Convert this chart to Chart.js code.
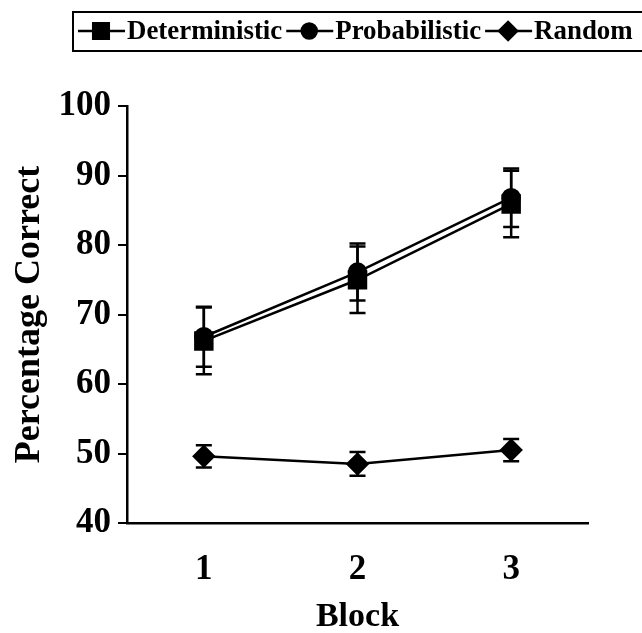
<!DOCTYPE html>
<html>
<head>
<meta charset="utf-8">
<script src="https://cdn.jsdelivr.net/npm/chart.js@4"></script>
<style>
  body { margin: 0; background: #fff; }
  #wrap { width: 642px; height: 633px; }
</style>
</head>
<body>
<div id="wrap"><canvas id="chart"></canvas></div>
<script>
  var blocks = ["1", "2", "3"];
  var deterministic = [66.2, 75.0, 85.9];
  var deterministicErr = [4.8, 4.8, 4.8];
  var probabilistic = [66.8, 76.1, 86.8];
  var probabilisticErr = [4.3, 4.1, 4.2];
  var random = [49.6, 48.5, 50.5];
  var randomErr = [1.6, 1.7, 1.6];
  var yTicks = [40, 50, 60, 70, 80, 90, 100];

  var serif = "'Liberation Serif', 'Times New Roman', serif";

  // error bars drawn from the dataset values through the y scale
  var errorBars = {
    id: "errorBars",
    beforeDatasetsDraw: function (chart) {
      var ctx = chart.ctx;
      var yScale = chart.scales.y;
      ctx.save();
      ctx.strokeStyle = "#000";
      ctx.lineWidth = 2.5;
      chart.data.datasets.forEach(function (ds, i) {
        var meta = chart.getDatasetMeta(i);
        meta.data.forEach(function (pt, j) {
          var top = yScale.getPixelForValue(ds.data[j] + ds.errors[j]);
          var bottom = yScale.getPixelForValue(ds.data[j] - ds.errors[j]);
          ctx.beginPath();
          ctx.moveTo(pt.x, top);
          ctx.lineTo(pt.x, bottom);
          ctx.moveTo(pt.x - 8, top);
          ctx.lineTo(pt.x + 8, top);
          ctx.moveTo(pt.x - 8, bottom);
          ctx.lineTo(pt.x + 8, bottom);
          ctx.stroke();
        });
      });
      ctx.restore();
    },
  };

  // boxed legend with line + marker samples, like the original figure
  var boxLegend = {
    id: "boxLegend",
    afterDraw: function (chart) {
      var ctx = chart.ctx;
      var x = 78;
      var y = 31;
      ctx.save();
      ctx.strokeStyle = "#000";
      ctx.lineWidth = 2;
      ctx.strokeRect(73, 12, 575, 39);
      ctx.font = "bold 28px " + serif;
      ctx.textBaseline = "middle";
      ctx.fillStyle = "#000";
      chart.data.datasets.forEach(function (ds) {
        ctx.lineWidth = 2.5;
        ctx.beginPath();
        ctx.moveTo(x, y);
        ctx.lineTo(x + 47, y);
        ctx.stroke();
        Chart.helpers.drawPoint(
          ctx,
          { pointStyle: ds.pointStyle, radius: ds.pointRadius - 1, rotation: 0, borderWidth: 1 },
          x + 23,
          y
        );
        ctx.fill();
        // text is a little condensed in the original
        ctx.save();
        ctx.translate(x + 49, y + 1);
        ctx.scale(0.96, 1);
        ctx.fillText(ds.label, 0, 0);
        ctx.restore();
        x += 49 + ctx.measureText(ds.label).width * 0.96 + 4;
      });
      ctx.restore();
    },
  };

  function makeSet(label, data, errors, style, radius) {
    return {
      label: label,
      data: data,
      errors: errors,
      borderColor: "#000",
      backgroundColor: "#000",
      borderWidth: 2.5,
      pointStyle: style,
      pointRadius: radius,
      pointHoverRadius: radius,
      pointBackgroundColor: "#000",
      pointBorderColor: "#000",
      tension: 0,
    };
  }

  var ctx = document.getElementById("chart").getContext("2d");
  new Chart(ctx, {
    type: "line",
    data: {
      labels: blocks,
      datasets: [
        makeSet("Deterministic", deterministic, deterministicErr, "rect", 12),
        makeSet("Probabilistic", probabilistic, probabilisticErr, "circle", 8.5),
        makeSet("Random", random, randomErr, "rectRot", 10),
      ],
    },
    options: {
      responsive: true,
      maintainAspectRatio: false,
      animation: false,
      layout: { padding: { top: 106, right: 54, left: 0, bottom: 0 } },
      plugins: {
        legend: { display: false },
        tooltip: { enabled: false },
      },
      scales: {
        x: {
          type: "category",
          offset: true,
          afterFit: function (scale) {
            scale.height = 110;
          },
          grid: { display: false },
          border: { display: true, color: "#000", width: 2.5 },
          ticks: {
            color: "#000",
            padding: 18,
            font: { family: serif, weight: "bold", size: 35 },
          },
          title: {
            display: true,
            text: "Block",
            color: "#000",
            padding: { top: 14, bottom: -5 },
            font: { family: serif, weight: "bold", size: 34 },
          },
        },
        y: {
          min: 40,
          max: 100,
          afterFit: function (scale) {
            scale.width = 127;
          },
          afterBuildTicks: function (scale) {
            scale.ticks = yTicks.map(function (v) {
              return { value: v };
            });
          },
          grid: {
            display: true,
            drawOnChartArea: false,
            drawTicks: true,
            tickLength: 9,
            color: "#000",
            lineWidth: 2,
          },
          border: { display: true, color: "#000", width: 2.5 },
          ticks: {
            color: "#000",
            padding: 7,
            font: { family: serif, weight: "bold", size: 35 },
          },
          title: {
            display: true,
            text: "Percentage Correct",
            color: "#000",
            padding: { top: 8, bottom: 0 },
            font: { family: serif, weight: "bold", size: 36 },
          },
        },
      },
    },
    plugins: [errorBars, boxLegend],
  });
</script>
</body>
</html>
